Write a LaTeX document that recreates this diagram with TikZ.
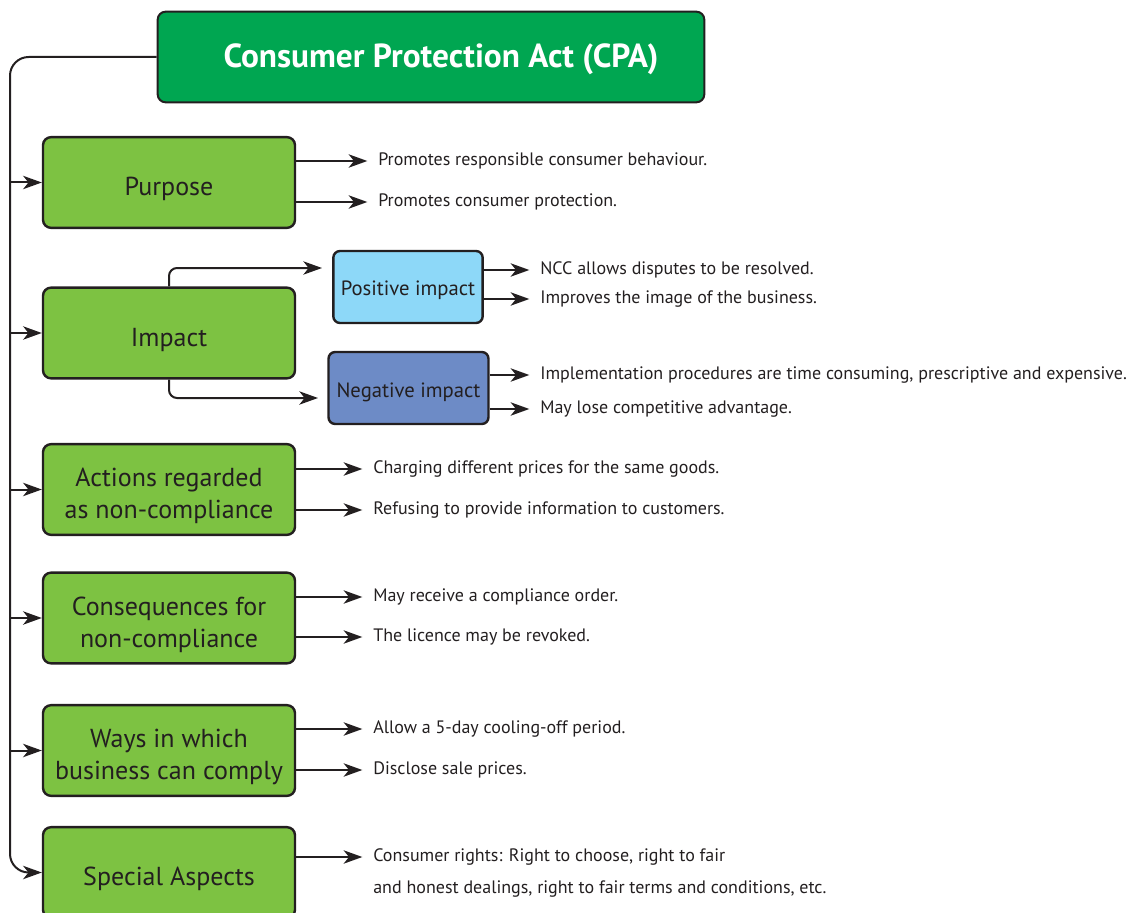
\documentclass[tikz,border=0pt]{standalone}
\usepackage{fontspec}
\setmainfont{PT Sans}
\usetikzlibrary{arrows.meta,positioning,calc}

\definecolor{cpagreen}{HTML}{00A651}
\definecolor{boxgreen}{HTML}{7DC242}
\definecolor{poscol}{HTML}{8DD8F8}
\definecolor{negcol}{HTML}{6D8BC6}
\definecolor{ink}{HTML}{231F20}

% lower the text inside a box, keeping the box size
\newcommand{\lowered}[2]{\raisebox{-#1}[\height][\depth]{#2}}
\newcommand{\topiclabel}[1]{\lowered{5pt}{\begin{tabular}{@{}c@{}}#1\end{tabular}}}

\begin{document}
\begin{tikzpicture}[x=0.75pt,y=-0.75pt,
    every node/.style={text=ink},
    arr/.style={draw=ink,line width=1.5pt,-{Stealth[length=14pt,width=10pt,inset=4pt]}},
    topic/.style={draw=ink,line width=1.8pt,rounded corners=6pt,fill=boxgreen,
        minimum width=189pt,minimum height=68pt,
        font=\fontsize{19.5}{24}\selectfont},
    effect/.style={draw=ink,line width=1.8pt,rounded corners=5pt,
        minimum height=54pt,align=center,font=\fontsize{15.5}{18}\selectfont},
    item/.style={anchor=west,inner sep=0pt,font=\fontsize{13.5}{16}\selectfont},
]
\useasboundingbox (0,0) rectangle (1135,913);

% Title
\node[draw=ink,line width=1.5pt,rounded corners=6pt,fill=cpagreen,
      minimum width=410pt,minimum height=68pt,text=white,
      font=\fontsize{25}{29}\selectfont\bfseries] (cpa) at (431,57)
      {\hspace{15pt}\lowered{2pt}{Consumer Protection Act (CPA)}};

% Main topics
\node[topic] (purpose)  at (169,182.5) {\topiclabel{Purpose}};
\node[topic] (impact)   at (169,333)   {\topiclabel{Impact}};
\node[topic] (actions)  at (169,489.5) {\topiclabel{Actions regarded\\as non-compliance}};
\node[topic] (conseq)   at (169,618)   {\topiclabel{Consequences for\\non-compliance}};
\node[topic] (ways)     at (169,750.5) {\topiclabel{Ways in which\\business can comply}};
\node[topic] (special)  at (169,872.5) {\topiclabel{Special Aspects}};

% Spine on the left
\coordinate (spine) at (10,500);
\draw[arr,rounded corners=14pt] (cpa.west) -| (spine) |- (special.west);
\foreach \t in {purpose,impact,actions,conseq,ways}
    \draw[arr] (spine |- \t.west) -- (\t.west);

% Impact split
\node[effect,fill=poscol,minimum width=112pt] (pos) at (408,287) {\lowered{2.5pt}{Positive impact}};
\node[effect,fill=negcol,minimum width=120pt] (neg) at (408.5,388) {\lowered{3.5pt}{Negative impact}};
\coordinate (posin) at (322,268);
\coordinate (negin) at (318,398);
\draw[arr,rounded corners=6pt] (impact.north) |- (posin);
\draw[arr,rounded corners=6pt] (impact.south) |- (negin);

% Bullet texts: name/source/x/y/text
\foreach \n/\src/\x/\y/\txt in {
    p1/purpose/378/161/{Promotes responsible consumer behaviour.},
    p2/purpose/378/202/{Promotes consumer protection.},
    i1/pos/540/270/{NCC allows disputes to be resolved.},
    i2/pos/540/299/{Improves the image of the business.},
    i3/neg/540/375/{Implementation procedures are time consuming, prescriptive and expensive.},
    i4/neg/540/409/{May lose competitive advantage.},
    a1/actions/373/469/{Charging different prices for the same goods.},
    a2/actions/373/510/{Refusing to provide information to customers.},
    c1/conseq/373/597/{May receive a compliance order.},
    c2/conseq/373/637/{The licence may be revoked.},
    w1/ways/373/729/{Allow a 5-day cooling-off period.},
    w2/ways/373/770/{Disclose sale prices.},
    s1/special/373/857/{Consumer rights: Right to choose, right to fair}
} {
    \node[item] (\n) at (\x,\y) {\txt};
    \draw[arr,shorten >=8pt] (\src.east |- \n.west) -- (\n.west);
}
\node[item] (s2) at (373,889) {and honest dealings, right to fair terms and conditions, etc.};
\end{tikzpicture}
\end{document}
